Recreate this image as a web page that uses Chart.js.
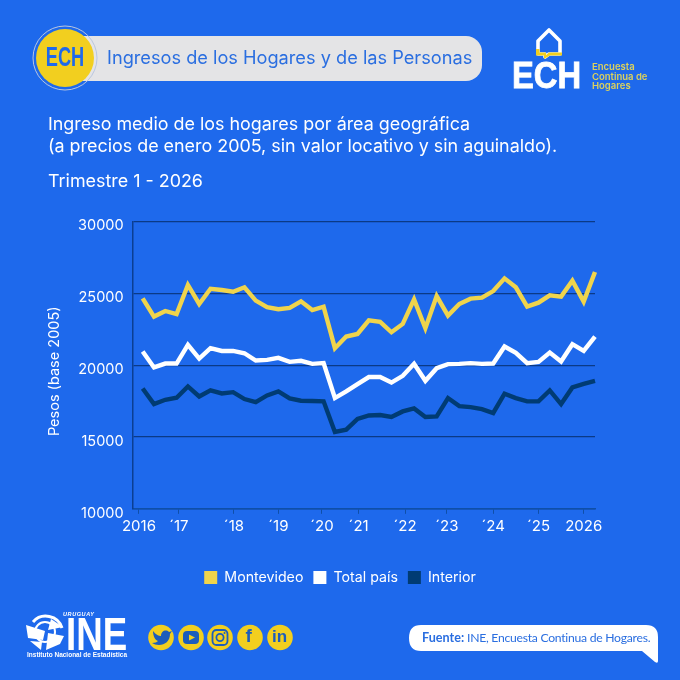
<!DOCTYPE html>
<html lang="es">
<head>
<meta charset="utf-8">
<title>Ingreso medio de los hogares</title>
<script src="https://cdn.jsdelivr.net/npm/chart.js@4"></script>
<style>
  html, body { margin: 0; padding: 0; background: #1e69ec; }
  #page { position: relative; width: 680px; height: 680px; overflow: hidden; background: #1e69ec; font-family: Inter, sans-serif; color: #fff; }
  #page canvas { position: absolute; left: 0; top: 0; }
  .t { position: absolute; white-space: nowrap; }
  .pill { position: absolute; left: 80px; top: 36px; width: 402px; height: 45px; background: #e4e4e6; border-radius: 0 16px 16px 0; }
  svg { position: absolute; left: 0; top: 0; }
</style>
</head>
<body>
<div id="page">
  <div class="pill"></div>
  <svg width="680" height="680">
    <!-- ECH badge -->
    <circle cx="65" cy="58" r="32" fill="none" stroke="#b9c6df" stroke-width="1"/>
    <circle cx="65" cy="58" r="29" fill="#f2cf1f"/>
    <!-- house logo -->
    <path d="M549 30 L560 41 V54 H549 L545 57 V54 H538 V41 Z" fill="none" stroke="#fff" stroke-width="3.6" stroke-linejoin="round"/>
    <path d="M536 49 H539.5 V52.5 H546 V55 L549 52.5 H562 V55.5 H550 L544 59 V55.5 H536 Z" fill="#f2cf1f"/>
    <!-- social icons -->
    <g fill="#f2cf1f">
      <circle cx="161" cy="637.5" r="12.8"/><circle cx="191" cy="637.5" r="12.8"/><circle cx="220" cy="637.5" r="12.8"/>
      <circle cx="250" cy="637.5" r="12.8"/><circle cx="280" cy="637.5" r="12.8"/>
    </g>
    <path d="M153 631 C156 635 159 636 161 636 C161 631 166 629 169 632 L172 631 L170 634 C170 641 165 645 159 645 C156 645 154 644 152 643 C155 643 157 642 158 641 C155 640 153 636 153 631 Z" fill="#1c5dbb"/>
    <rect x="183" y="631" width="16" height="13" rx="4" fill="#1c5dbb"/>
    <path d="M189 634.5 L195 637.5 L189 640.5 Z" fill="#f2cf1f"/>
    <rect x="212.5" y="630" width="15" height="15" rx="4" fill="none" stroke="#1c5dbb" stroke-width="1.8"/>
    <circle cx="220" cy="637.5" r="3.6" fill="none" stroke="#1c5dbb" stroke-width="1.8"/>
    <circle cx="224.5" cy="633" r="1" fill="#1c5dbb"/>
    <!-- globe of the INE logo -->
    <path d="M33 622 A17 17 0 0 1 62 628" fill="none" stroke="#fff" stroke-width="3"/>
    <circle cx="45" cy="632" r="10" fill="none" stroke="#fff" stroke-width="2"/>
    <path d="M26 625 L45 631 L43 640 L28 638 Z M30 641 L42 642 L41 650 Z M48 633 L64 636 L60 644 L46 650 Z M48 630 L51 619 L63 627 Z" fill="#fff"/>
    <!-- speech bubble of the source -->
    <path d="M421 625 H646 Q658 625 658 637 V661 Q658 664 655 662 L642 651 H421 Q409 651 409 638 Q409 625 421 625 Z" fill="#fff"/>
  </svg>
  <canvas id="chart" width="680" height="680"></canvas>

  <div class="t" style="left:65px;top:41px;font:bold 28px 'Liberation Sans',sans-serif;color:#1e69ec;transform:translateX(-50%) scaleX(.65);">ECH</div>
  <div class="t" style="left:107px;top:46px;font-size:18.2px;color:#2a6ee0;">Ingresos de los Hogares y de las Personas</div>

  <div class="t" style="left:512px;top:55px;font:900 36px/42px 'Liberation Sans',sans-serif;color:#fff;-webkit-text-stroke:.8px #fff;transform-origin:left top;transform:scaleX(.91);">ECH</div>
  <div class="t" style="left:592px;top:62px;font-size:9.5px;line-height:9.6px;font-weight:600;color:#dcd25c;">Encuesta<br>Continua de<br>Hogares</div>

  <div class="t" style="left:48px;top:113px;font-size:17.9px;line-height:22px;">Ingreso medio de los hogares por área geográfica<br>(a precios de enero 2005, sin valor locativo y sin aguinaldo).</div>
  <div class="t" style="left:48px;top:170px;font-size:17.9px;line-height:22px;">Trimestre 1 - 2026</div>

  <div class="t" style="left:63px;top:611px;font:italic bold 5.5px 'Liberation Sans',sans-serif;letter-spacing:.6px;">URUGUAY</div>
  <div class="t" style="left:66px;top:608px;font:bold 47px/52px 'Liberation Sans',sans-serif;transform-origin:left top;transform:scaleX(.78);">INE</div>
  <div class="t" style="left:27px;top:651px;font:bold 6.5px 'Liberation Sans',sans-serif;">Instituto Nacional de Estadística</div>

  <div class="t" style="left:245.5px;top:625px;font:bold 19px 'Liberation Sans',sans-serif;color:#1c5dbb;">f</div>
  <div class="t" style="left:272px;top:627px;font:bold 17px 'Liberation Sans',sans-serif;color:#1c5dbb;">in</div>

  <div class="t" style="left:422px;top:630px;font:12.2px Lato,sans-serif;letter-spacing:-.27px;color:#2a6ee0;"><b style="font-size:12.6px;letter-spacing:0;">Fuente:</b> INE, Encuesta Continua de Hogares.</div>
</div>

<script>
const quarters = [
  '2016 T1','2016 T2','2016 T3','2016 T4','2017 T1','2017 T2','2017 T3','2017 T4',
  '2018 T1','2018 T2','2018 T3','2018 T4','2019 T1','2019 T2','2019 T3','2019 T4',
  '2020 T1','2020 T2','2020 T3','2020 T4','2021 T1','2021 T2','2021 T3','2021 T4',
  '2022 T1','2022 T2','2022 T3','2022 T4','2023 T1','2023 T2','2023 T3','2023 T4',
  '2024 T1','2024 T2','2024 T3','2024 T4','2025 T1','2025 T2','2025 T3','2025 T4',
  '2026 T1'
];
const montevideo = [
  24650,23380,23770,23560,25580,24260,25320,25230,
  25110,25420,24490,24030,23890,23980,24440,23840,
  24070,21180,21990,22170,23120,23010,22290,22870,
  24580,22570,24810,23450,24260,24630,24700,25160,
  26040,25420,24070,24350,24860,24770,25880,24420,
  26480
];
const totalPais = [
  20950,19840,20110,20110,21410,20460,21180,20990,
  20990,20830,20320,20370,20510,20230,20300,20090,
  20140,17710,18170,18680,19170,19170,18790,19260,
  20090,18910,19790,20070,20090,20140,20090,20110,
  21300,20860,20140,20230,20880,20250,21460,20990,
  21990
];
const interior = [
  18380,17290,17590,17730,18520,17820,18240,18030,
  18120,17640,17430,17890,18170,17680,17520,17500,
  17480,15350,15510,16250,16500,16530,16390,16780,
  16990,16390,16430,17710,17150,17080,16940,16670,
  18010,17710,17480,17480,18240,17290,18450,18700,
  18910
];
const yearTicks = [-0.33, 3.2, 8.07, 12, 15.85, 19.1, 23.2, 26.9, 31, 35, 39];
const yearLabels = ['2016','´17','´18','´19','´20','´21','´22','´23','´24','´25','2026'];

const toPoints = values => values.map((v, i) => ({ x: i, y: v }));

function serie(label, values, color) {
  return {
    label: label,
    data: toPoints(values),
    borderColor: color,
    backgroundColor: color,
    borderWidth: 4.4,
    pointRadius: 0,
    tension: 0,
    clip: false
  };
}

new Chart(document.getElementById('chart'), {
  type: 'line',
  data: {
    labels: quarters,
    datasets: [
      serie('Montevideo', montevideo, '#f0d44c'),
      serie('Total país', totalPais, '#ffffff'),
      serie('Interior', interior, '#003b73')
    ]
  },
  options: {
    responsive: false,
    animation: false,
    layout: { padding: { left: 46, right: 46, top: 221.5, bottom: 85.5 } },
    plugins: {
      tooltip: { enabled: false },
      legend: {
        position: 'bottom',
        labels: {
          color: '#ffffff',
          font: { family: 'Inter', size: 14.2 },
          boxWidth: 13,
          boxHeight: 13,
          padding: 10,
          generateLabels: chart => Chart.defaults.plugins.legend.labels.generateLabels(chart)
            .map(item => ({ ...item, lineWidth: 0 }))
        }
      }
    },
    scales: {
      x: {
        type: 'linear',
        min: -0.89,
        max: 40,
        afterBuildTicks: scale => { scale.ticks = yearTicks.map(v => ({ value: v })); },
        afterFit: scale => { scale.height = 51.5; },
        border: { color: '#0f4fa8', width: 1.5 },
        grid: { drawOnChartArea: false, color: '#0f4fa8', tickLength: 5 },
        ticks: {
          color: '#ffffff',
          font: { family: 'Inter', size: 15 },
          autoSkip: false,
          maxRotation: 0,
          padding: 4,
          callback: (value, i) => yearLabels[i]
        }
      },
      y: {
        min: 10000,
        max: 30000,
        afterFit: scale => { scale.width = 86.6; },
        border: { color: '#0b3f92', width: 1.5 },
        grid: { color: '#0b3a86', lineWidth: 1.2, drawTicks: false },
        ticks: {
          color: '#ffffff',
          font: { family: 'Inter', size: 14.5 },
          stepSize: 5000,
          padding: 9,
          labelOffset: 4.5,
          callback: value => String(value)
        },
        title: {
          display: true,
          text: 'Pesos (base 2005)   ', // trailing spaces push it down a little, as in the original
          color: '#ffffff',
          font: { family: 'Inter', size: 14.5 },
          padding: { top: 0, bottom: 0 }
        }
      },
      // empty axis on the right, keeps the legend centred on the page
      margen: {
        position: 'right',
        grid: { display: false },
        border: { display: false },
        ticks: { display: false },
        afterFit: scale => { scale.width = 39; }
      }
    }
  }
});
</script>
</body>
</html>
